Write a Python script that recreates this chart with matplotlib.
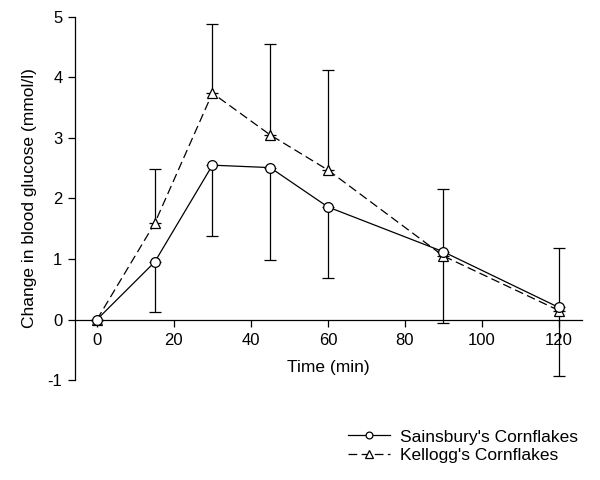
import numpy as np
import matplotlib
matplotlib.use('Agg')
import matplotlib.pyplot as plt

plt.rcParams['font.family'] = ['Liberation Sans', 'DejaVu Sans']
plt.rcParams['axes.unicode_minus'] = False

# 数据
time_min = [0, 15, 30, 45, 60, 90, 120]
sainsbury = [0, 0.95, 2.55, 2.51, 1.86, 1.12, 0.20]
sainsbury_err_low = [0, 0.82, 1.17, 1.53, 1.18, 1.18, 1.13]
kellogg = [0, 1.59, 3.74, 3.05, 2.47, 1.05, 0.15]
kellogg_err_up = [0, 0.89, 1.14, 1.50, 1.65, 1.10, 1.04]

zeros = np.zeros(len(time_min))

fig = plt.figure(figsize=(6, 4.8), dpi=100)
ax = fig.add_axes([0.125, 0.208, 0.845, 0.757])

lw = 0.9
# 误差棒（单侧）
ax.errorbar(time_min, kellogg, yerr=[zeros, kellogg_err_up], fmt='none',
            ecolor='black', elinewidth=lw, capsize=4, capthick=lw, zorder=1)
ax.errorbar(time_min, sainsbury, yerr=[sainsbury_err_low, zeros], fmt='none',
            ecolor='black', elinewidth=lw, capsize=4, capthick=lw, zorder=1)

# 曲线
ax.plot(time_min, sainsbury, color='black', linewidth=lw, marker='o',
        markersize=7, markerfacecolor='white', markeredgecolor='black',
        markeredgewidth=lw, label="Sainsbury's Cornflakes", zorder=3)
ax.plot(time_min, kellogg, color='black', linewidth=lw, linestyle=(0, (7, 3.5)),
        marker='^', markersize=7.5, markerfacecolor='white', markeredgecolor='black',
        markeredgewidth=lw, label="Kellogg's Cornflakes", zorder=2)

# 坐标轴
ax.set_xlim(-5.7, 126)
ax.set_ylim(-1, 5)
ax.spines['top'].set_visible(False)
ax.spines['right'].set_visible(False)
ax.spines['bottom'].set_position(('data', 0))
ax.spines['left'].set_linewidth(lw)
ax.spines['bottom'].set_linewidth(lw)
ax.set_xticks([0, 20, 40, 60, 80, 100, 120])
ax.set_yticks([-1, 0, 1, 2, 3, 4, 5])
ax.tick_params(axis='both', direction='out', length=5, width=lw, labelsize=12)
ax.tick_params(axis='x', pad=5)
ax.tick_params(axis='y', pad=4)
ax.set_xlabel('Time (min)', fontsize=12.5, labelpad=8)
ax.set_ylabel('Change in blood glucose (mmol/l)', fontsize=12.5, labelpad=8)

# 图例
fig.legend(loc='upper right', bbox_to_anchor=(0.99, 0.138), frameon=False,
           fontsize=12.5, handlelength=2.4, labelspacing=0.2, handletextpad=0.6,
           markerscale=0.7)

fig.savefig('out.png', dpi=100)
